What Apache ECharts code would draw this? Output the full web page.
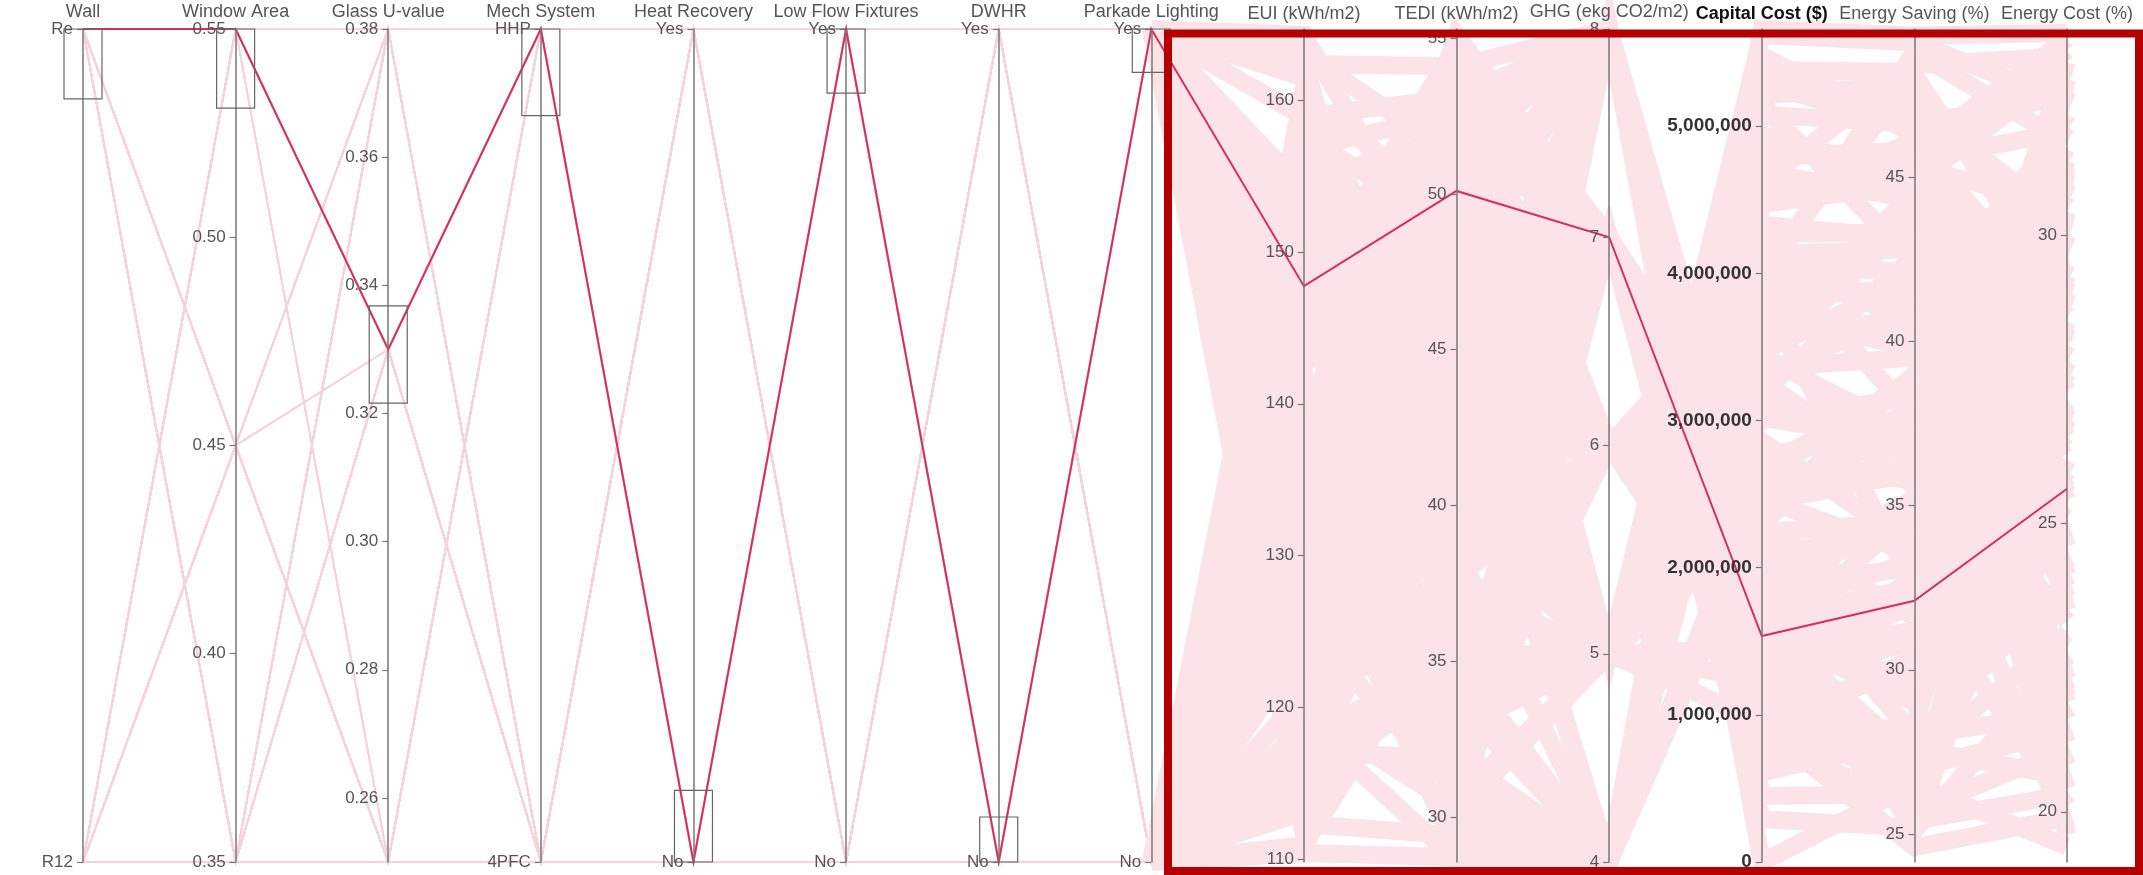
<!DOCTYPE html>
<html>
<head>
<meta charset="utf-8">
<script src="https://cdn.jsdelivr.net/npm/echarts/dist/echarts.min.js"></script>
<style>
  html, body { margin: 0; padding: 0; background: #fff; }
  #chart { width: 2143px; height: 875px; }
</style>
</head>
<body>
<div id="chart"></div>
<script>
// Design options (inputs) and simulated results (outputs) for each building design.

const dimensionNames = ['Wall', 'Window Area', 'Glass U-value', 'Mech System', 'Heat Recovery',
  'Low Flow Fixtures', 'DWHR', 'Parkade Lighting', 'EUI (kWh/m2)', 'TEDI (kWh/m2)',
  'GHG (ekg CO2/m2)', 'Capital Cost ($)', 'Energy Saving (%)', 'Energy Cost (%)'];

// Category labels for the two-option inputs (index 0 = bottom, 1 = top)
const wallLabels = ['R12', 'Re'];
const mechLabels = ['4PFC', 'HHP'];
const yesNoLabels = ['No', 'Yes'];

const wall = [
  1,0,0,1,0,1,1,0,1,0,0,1, 0,1,1,0,0,1,0,1,1,0,1,0, 1,1,0,0,1,0,0,1,1,0,0,1, 0,0,1,1,0,1,0,1,0,1,1,0,
  1,0,1,0,0,1,1,0,0,1,0,1, 0,1,0,1,1,0,1,0,0,1,1,0, 1,0,0,1,1,0,0,1,0,1,0,1, 0,1,1,0,1,0,1,0,1,0,0,1];
const windowArea = [
  0.55,0.45,0.35,0.45,0.55,0.35,0.35,0.45,0.55,0.35,0.45,0.55,
  0.45,0.35,0.55,0.55,0.35,0.45,0.45,0.55,0.35,0.35,0.45,0.55,
  0.35,0.55,0.45,0.35,0.45,0.55,0.55,0.35,0.45,0.45,0.55,0.35,
  0.45,0.55,0.35,0.55,0.45,0.35,0.35,0.55,0.45,0.55,0.35,0.45,
  0.55,0.35,0.45,0.45,0.35,0.55,0.45,0.35,0.55,0.35,0.55,0.45,
  0.35,0.45,0.55,0.35,0.55,0.45,0.55,0.45,0.35,0.45,0.35,0.55,
  0.45,0.55,0.35,0.35,0.45,0.55,0.35,0.55,0.45,0.55,0.45,0.35,
  0.55,0.35,0.45,0.55,0.35,0.45,0.45,0.35,0.55,0.35,0.55,0.45];
const glassU = [
  0.38,0.25,0.33,0.25,0.33,0.38,0.25,0.38,0.33,0.33,0.38,0.25,
  0.25,0.33,0.38,0.33,0.38,0.25,0.38,0.25,0.33,0.25,0.33,0.38,
  0.33,0.38,0.25,0.38,0.25,0.33,0.33,0.25,0.38,0.38,0.25,0.33,
  0.25,0.38,0.33,0.33,0.25,0.38,0.38,0.33,0.25,0.33,0.38,0.25,
  0.38,0.33,0.25,0.25,0.38,0.33,0.25,0.33,0.38,0.25,0.33,0.38,
  0.33,0.25,0.38,0.38,0.33,0.25,0.33,0.38,0.25,0.38,0.25,0.33,
  0.25,0.33,0.38,0.25,0.38,0.33,0.38,0.25,0.33,0.33,0.25,0.38,
  0.38,0.25,0.33,0.38,0.33,0.25,0.25,0.38,0.33,0.25,0.38,0.33];
const mech = [
  1,0,1,1,0,0,1,0,0,1,1,0, 0,1,0,0,1,1,0,1,1,0,0,1, 1,1,0,1,0,0,1,0,1,0,1,0, 0,0,1,0,1,1,0,1,0,1,0,1,
  1,0,0,1,1,0,0,1,1,0,1,0, 0,1,1,0,0,1,1,0,0,1,0,1, 1,0,1,0,1,0,0,1,0,1,1,0, 0,1,0,1,0,1,1,0,1,0,0,1];
const heatRecovery = [
  0,1,1,0,1,0,0,1,0,1,0,1, 1,0,1,1,0,0,1,0,0,1,1,0, 0,1,0,0,1,1,0,1,1,0,0,1, 1,1,0,1,0,0,1,0,1,0,1,0,
  0,0,1,0,1,1,0,1,0,1,0,1, 1,0,0,1,1,0,0,1,1,0,1,0, 0,1,1,0,0,1,1,0,0,1,0,1, 1,0,1,0,1,0,0,1,0,1,1,0];
const lowFlow = [
  1,1,0,0,1,0,1,1,0,0,1,0, 0,1,1,0,0,1,0,1,1,0,1,0, 1,0,0,1,1,0,1,0,0,1,0,1, 0,0,1,1,0,1,1,0,1,0,0,1,
  1,1,0,1,0,0,0,1,1,0,1,0, 0,1,0,0,1,1,1,0,0,1,0,1, 1,0,1,0,0,1,0,0,1,1,1,0, 0,0,1,1,1,0,1,1,0,0,0,1];
const dwhr = [
  0,0,1,1,0,1,0,1,1,0,0,1, 1,0,0,1,1,0,1,0,0,1,0,1, 0,1,1,0,0,1,0,1,0,1,1,0, 1,0,1,0,1,0,0,1,1,0,1,0,
  0,1,0,1,1,0,1,0,0,1,0,1, 1,1,0,0,0,1,0,1,1,0,1,0, 0,0,1,1,0,0,1,1,0,0,1,1, 1,1,0,0,1,1,0,0,1,1,0,0];
const parkade = [
  1,0,1,0,0,1,1,0,1,1,0,0, 0,1,0,1,1,0,0,1,0,1,1,0, 1,1,0,0,1,0,1,0,1,0,0,1, 0,0,1,1,0,1,0,1,0,0,1,1,
  1,0,0,1,0,1,1,0,1,0,1,0, 0,1,1,0,1,0,0,1,0,1,0,1, 1,0,1,1,0,0,1,0,0,1,1,0, 0,1,0,0,1,1,0,1,1,0,0,1];

const eui = [
  162.4,118.6,145.2,131.7,156.8,112.3,139.5,127.9,150.6,123.4,160.1,135.8,
  143.7,116.2,152.9,129.3,147.1,120.8,158.3,133.6,114.9,141.2,125.5,154.7,
  137.4,164.3,110.4,149.0,122.1,146.3,130.9,159.2,117.5,138.8,153.5,126.6,
  144.4,113.7,161.5,132.8,157.6,121.3,142.0,128.4,151.7,134.9,119.8,163.1,
  140.3,115.8,148.2,124.7,155.9,136.5,111.6,146.9,129.9,160.8,120.2,143.1,
  127.2,152.2,133.1,117.0,158.9,138.2,123.9,149.8,113.1,141.7,131.2,162.9,
  126.0,145.6,119.1,154.1,136.0,110.9,147.8,128.8,157.1,122.7,139.9,116.6,
  150.1,134.4,159.6,125.1,144.9,112.8,153.0,130.4,161.9,118.1,142.6,137.0];
const tedi = [
  54.1,33.2,47.9,41.3,52.6,29.4,38.7,45.6,43.2,36.8,49.5,31.5,
  53.4,40.2,35.6,50.7,29.9,47.1,42.4,55.1,34.6,44.8,30.8,51.8,
  37.9,46.5,28.7,39.6,52.3,33.9,48.4,31.2,43.9,54.6,38.3,35.2,
  50.2,46.8,36.4,28.9,48.9,41.8,32.4,53.9,45.3,39.2,30.3,51.2,
  42.9,49.8,36.1,44.1,29.6,47.5,38.6,54.8,33.7,40.7,37.3,46.2,
  52.9,32.8,43.5,31.9,53.1,35.4,48.1,41.1,44.6,30.1,50.9,34.3,
  39.9,52.0,28.6,47.7,42.2,36.9,31.7,49.3,39.0,54.3,34.8,45.9,
  51.5,30.6,44.3,41.5,37.6,53.6,30.4,46.9,40.4,35.0,49.1,44.0];
const ghg = [
  8,5,7,6,8,4,6,5,7,5,8,4, 7,5,6,5,4,6,8,7,5,6,4,8, 6,7,4,7,5,5,6,8,4,7,7,5, 6,5,8,4,8,5,6,6,7,5,4,8,
  6,5,6,5,7,6,4,7,4,8,5,6, 6,5,5,4,8,6,5,7,4,5,6,7, 5,7,4,8,6,5,6,5,8,6,4,5, 7,5,8,6,6,5,7,6,8,4,7,5];
const capitalCost = [
  1350000,4850000,1720000,3360000,2050000,4620000,2440000,3910000,1180000,4270000,0,4180000,
  2110000,5080000,1460000,3620000,3870000,3580000,1610000,2680000,5340000,1950000,5150000,1580000,
  3020000,920000,5660000,2270000,3780000,1240000,3810000,1060000,4460000,2550000,1590000,3470000,
  2860000,5210000,840000,2350000,1120000,4690000,1830000,3980000,860000,2310000,4940000,1900000,
  3270000,5430000,1270000,4130000,720000,2760000,3950000,1650000,4210000,450000,4470000,2030000,
  3840000,950000,2620000,5480000,1360000,3120000,4330000,1390000,4010000,1450000,3710000,290000,
  4060000,1880000,4540000,1810000,2390000,5620000,1510000,3320000,610000,3430000,2630000,5290000,
  1220000,3010000,910000,3190000,2470000,5380000,1070000,3690000,1630000,4790000,2240000,3440000];
const energySaving = [
  25.4,45.5,33.3,39.5,28.0,48.4,36.0,41.3,30.9,43.3,26.5,37.7,
  34.0,46.6,29.8,40.6,32.5,44.5,27.3,38.7,47.2,35.2,42.4,29.0,
  36.9,24.6,49.3,31.6,43.9,32.8,39.9,26.9,46.1,36.3,29.5,41.9,
  33.7,47.8,25.8,39.0,27.6,44.3,34.8,41.0,30.4,38.1,45.0,25.1,
  35.6,46.8,32.0,42.8,28.4,37.3,48.8,32.5,40.4,26.2,44.8,34.3,
  41.6,30.1,38.9,46.3,27.0,36.5,43.1,31.2,48.1,34.9,39.8,25.2,
  42.1,33.1,45.3,29.2,37.6,49.1,32.1,40.9,27.9,43.7,35.8,46.5,
  31.1,38.3,26.7,42.6,33.5,48.2,29.8,40.1,25.7,45.8,34.5,37.1];
const energyCost = [
  20.3,31.8,26.4,28.9,21.7,33.1,24.8,29.7,22.9,30.6,19.4,27.5,
  23.6,32.4,25.9,21.2,28.1,26.9,23.1,20.8,30.2,31.3,24.2,27.8,
  22.5,19.9,33.5,29.3,25.4,30.9,22.1,26.1,28.6,19.7,32.7,23.9,
  27.1,24.6,30.4,32.1,20.6,29.8,26.7,21.9,31.1,25.1,33.2,22.7,
  28.3,27.3,24.4,30.8,29.0,23.3,31.6,20.1,26.3,25.7,32.9,29.5,
  22.3,28.4,31.5,24.1,21.4,27.9,25.6,30.0,28.8,33.0,20.4,27.0,
  23.7,25.3,30.5,29.2,21.6,32.3,22.8,31.9,24.0,26.5,32.5,22.0,
  28.5,30.7,26.8,19.6,31.2,23.5,27.6,29.6,21.1,33.4,24.5,28.0];

// The selected design (inside every brushed range)
const selectedDesign = [1, 0.55, 0.33, 1, 0, 1, 0, 1, 147.75, 50.1, 7, 1535000, 32.1, 25.6];

// Brushed ranges on the input axes, in axis units
const brushRanges = [[0.916, 1], [0.531, 0.55], [0.3216, 0.3368], [0.896, 1],
  [0, 0.086], [0.923, 1], [0, 0.054], [0.948, 1]];

const designs = eui.map((_, i) => [wall[i], windowArea[i], glassU[i], mech[i], heatRecovery[i],
  lowFlow[i], dwhr[i], parkade[i], eui[i], tedi[i], ghg[i], capitalCost[i], energySaving[i], energyCost[i]]);

// ---- layout / styling ----
const FONT = '"Liberation Sans", Arial, Helvetica, sans-serif';
const PLOT = { left: 83, right: 76, top: 29, bottom: 13 };
const RESULT_FIRST = 7;   // Parkade Lighting onwards gets the shaded result band

const axisMin = [0, 0.35, 0.25, 0, 0, 0, 0, 0, 109.8, 28.55, 4, 0, 24.15, 19.13];
const axisMax = [1, 0.55, 0.38, 1, 1, 1, 1, 1, 164.7, 55.3, 8, 5660000, 49.5, 33.57];

function binaryAxis(dim, labels) {
  return { dim, name: dimensionNames[dim], type: 'value', min: axisMin[dim], max: axisMax[dim], interval: 1,
    axisLabel: { formatter: v => labels[v] } };
}
function valueAxis(dim, extra) {
  const base = { dim, name: dimensionNames[dim], type: 'value', min: axisMin[dim], max: axisMax[dim] };
  return echarts.util.merge(base, extra || {}, true);
}
const two = v => v.toFixed(2);
const hideEnds = { axisLabel: { showMinLabel: false, showMaxLabel: false } };

const parallelAxis = [
  binaryAxis(0, wallLabels),
  valueAxis(1, { axisLabel: { formatter: two } }),
  valueAxis(2, { splitNumber: 6, axisLabel: { formatter: two, showMinLabel: false } }),
  binaryAxis(3, mechLabels),
  binaryAxis(4, yesNoLabels),
  binaryAxis(5, yesNoLabels),
  binaryAxis(6, yesNoLabels),
  binaryAxis(7, yesNoLabels),
  valueAxis(8, hideEnds),
  valueAxis(9, hideEnds),
  valueAxis(10),
  valueAxis(11, {
    nameTextStyle: { fontWeight: 'bold', color: '#111' },
    axisLabel: { showMaxLabel: false, fontWeight: 'bold', color: '#333', fontSize: 19, margin: -10 } }),
  valueAxis(12, hideEnds),
  valueAxis(13, { splitNumber: 3, axisLabel: { showMinLabel: false, showMaxLabel: false } })
].map(a => Object.assign(a, { parallelIndex: 0 }));

// Invisible twin axes over the result columns, used for the soft shaded band
const bandAxes = [];
for (let d = RESULT_FIRST; d < dimensionNames.length; d++) {
  bandAxes.push({ dim: d - RESULT_FIRST, parallelIndex: 1, type: 'value', min: axisMin[d], max: axisMax[d],
    name: '', silent: true,
    axisLine: { show: false }, axisTick: { show: false },
    axisLabel: { formatter: () => '', color: 'rgba(0,0,0,0)' } });
}
const resultRows = designs.map(r => r.slice(RESULT_FIRST));

const stepX = (2143 - PLOT.left - PLOT.right) / (dimensionNames.length - 1);

const chart = echarts.init(document.getElementById('chart'), null, { renderer: 'canvas' });

chart.setOption({
  animation: false,
  backgroundColor: '#fff',
  textStyle: { fontFamily: FONT },
  parallel: [
    {
      left: PLOT.left, right: PLOT.right, top: PLOT.top, bottom: PLOT.bottom,
      layout: 'horizontal',
      parallelAxisDefault: {
        nameLocation: 'end',
        nameGap: 6,
        nameTruncate: { maxWidth: 400 },
        nameTextStyle: { color: '#555', fontSize: 18, fontFamily: FONT },
        axisLine: { lineStyle: { color: '#777', width: 1.5 } },
        axisTick: { length: -6, lineStyle: { color: '#777', width: 1.2 } },
        axisLabel: { color: '#555', fontSize: 17, margin: -10, align: 'right', fontFamily: FONT },
        splitLine: { show: false }
      }
    },
    {
      left: PLOT.left + RESULT_FIRST * stepX, right: PLOT.right, top: PLOT.top, bottom: PLOT.bottom,
      layout: 'horizontal'
    }
  ],
  parallelAxis: parallelAxis.concat(bandAxes),
  series: [
    {
      name: 'designs', type: 'parallel', parallelIndex: 0, silent: true, z: 1,
      lineStyle: { color: '#f7d2db', width: 1.6, opacity: 1 },
      data: designs
    },
    {
      name: 'design band', type: 'parallel', parallelIndex: 1, silent: true, z: 2,
      lineStyle: { color: '#fce3e8', width: 18, opacity: 1 },
      data: resultRows
    },
    {
      name: 'selected', type: 'parallel', parallelIndex: 0, silent: true, z: 3,
      lineStyle: { color: '#d62f5b', width: 2, opacity: 1 },
      data: [selectedDesign]
    }
  ]
});

// Brush boxes on the input axes, positioned through the parallel coordinate system
function toPixel(dim, value) {
  try {
    const sys = chart.getModel().getComponent('parallel', 0).coordinateSystem;
    const p = sys.dataToPoint(value, 'dim' + dim);
    if (p && isFinite(p[0]) && isFinite(p[1])) return p;
  } catch (e) { /* fall back to the plot geometry */ }
  const h = 875 - PLOT.top - PLOT.bottom;
  return [PLOT.left + dim * stepX, PLOT.top + (axisMax[dim] - value) / (axisMax[dim] - axisMin[dim]) * h];
}

const graphics = [];
brushRanges.forEach((range, dim) => {
  const top = toPixel(dim, range[1]);
  const bottom = toPixel(dim, range[0]);
  graphics.push({
    type: 'rect', z: 50, silent: true,
    shape: { x: top[0] - 19, y: top[1], width: 38, height: bottom[1] - top[1] },
    style: { fill: 'none', stroke: '#666', lineWidth: 1.2 }
  });
});
graphics.push({
  type: 'rect', z: 100, silent: true,
  shape: { x: 1168, y: 33.5, width: 971, height: 837.5 },
  style: { fill: 'none', stroke: '#b40000', lineWidth: 8 }
});
chart.setOption({ graphic: graphics });
</script>
</body>
</html>
